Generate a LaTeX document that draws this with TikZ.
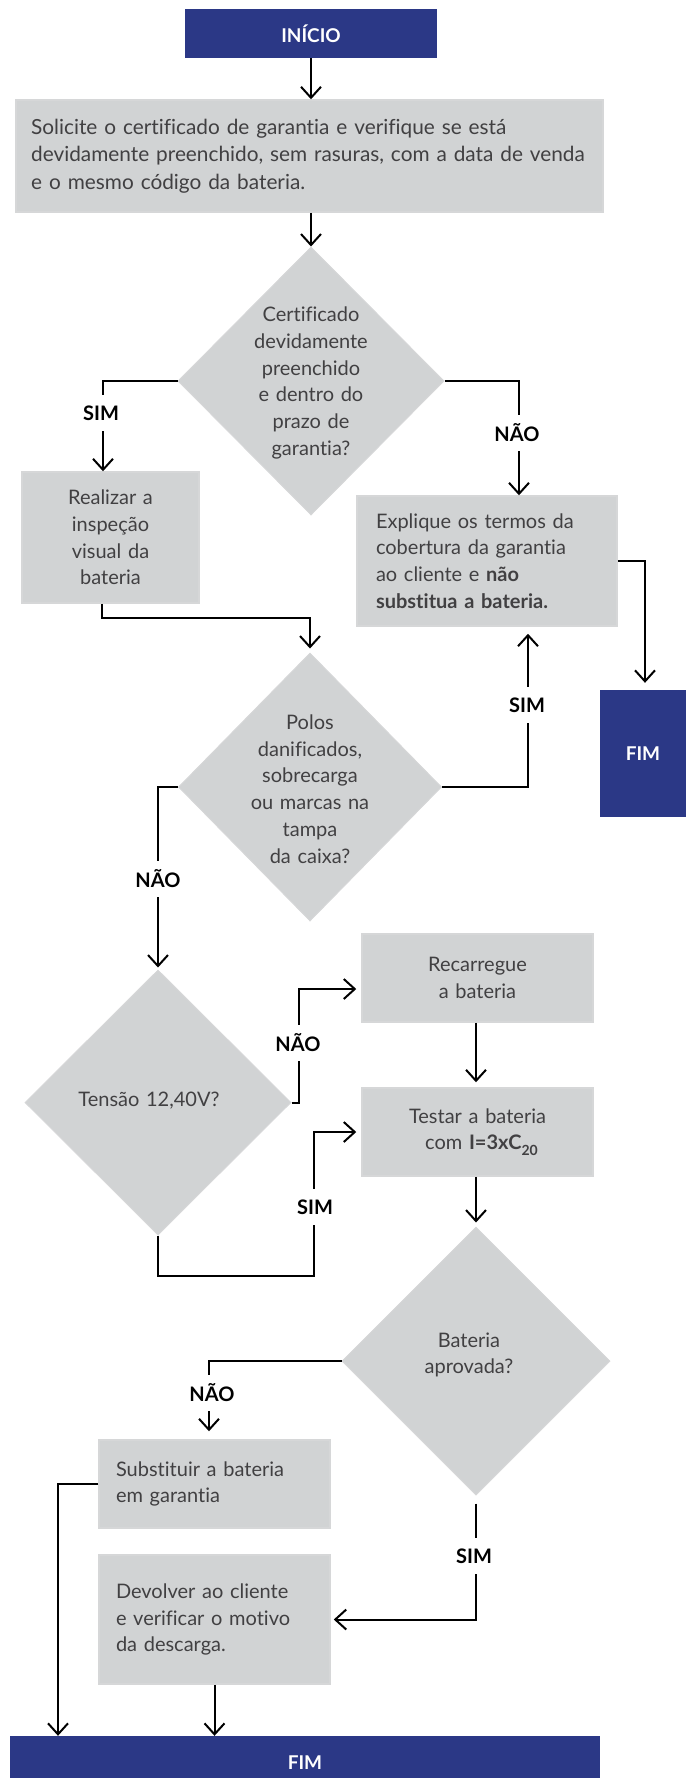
\documentclass[tikz,border=0pt]{standalone}
\usepackage{fontspec}
\setmainfont{Lato}[Ligatures=NoCommon, WordSpace=1.3]
\usetikzlibrary{arrows.meta,shapes.geometric,calc}
\definecolor{navy}{HTML}{2B3886}
\definecolor{boxgray}{HTML}{D1D3D4}
\definecolor{boxline}{HTML}{D6D7D8}
\definecolor{txt}{HTML}{414042}
\begin{document}
\begin{tikzpicture}[x=1pt,y=-1pt,
  box/.style={draw=boxline, line width=1.5pt, fill=boxgray, inner sep=0pt, text=txt,
    font=\fontsize{20}{26.7}\selectfont},
  diam/.style={diamond, aspect=1, draw=boxline, line width=1pt, fill=boxgray, inner sep=0pt},
  dtext/.style={text=txt, align=center, font=\fontsize{20}{26.7}\selectfont, inner sep=0pt},
  term/.style={fill=navy, text=white, inner sep=0pt, font=\fontsize{19}{22}\selectfont\bfseries},
  lab/.style={fill=white, text=black, inner xsep=2pt, minimum height=36pt,
    font=\fontsize{20}{22}\selectfont\bfseries},
  conn/.style={draw=black, line width=2pt, -{Straight Barb[length=11pt,width=20pt,line width=2pt]}}
]
\clip (0,0) rectangle (686,1778);
\useasboundingbox (0,0) rectangle (686,1778);
% terminals
\node[term, minimum width=252pt, minimum height=49pt] (inicio) at (311,33.5) {INÍCIO};
\node[term, minimum width=86pt, minimum height=127pt] (fim1) at (643,753.5) {FIM};
\node[term, minimum width=590pt, minimum height=54pt] (fimb) at (305,1763) {FIM};
% boxes
\node[box, minimum width=587pt, minimum height=112pt] (sol) at (309.5,156) {};
\node[text=txt, anchor=west, align=left, inner sep=0pt, font=\fontsize{20.8}{27.5}\selectfont] (solt) at (31,156)
  {Solicite o certificado de garantia e verifique se está\\devidamente preenchido, sem rasuras, com a data de venda\\e o mesmo código da bateria.};
\node[box, minimum width=177pt, minimum height=131pt, text width=160pt, align=center] (real) at (110.5,537.5)
  {Realizar a\\inspeção\\visual da\\bateria};
\node[box, minimum width=260pt, minimum height=130pt, text width=222pt, align=left] (expl) at (487,561)
  {Explique os termos da\\cobertura da garantia\\ao cliente e \textbf{não}\\\textbf{substitua a bateria.}};
\node[box, minimum width=231pt, minimum height=88pt, text width=210pt, align=center] (recar) at (477.5,978)
  {Recarregue\\a bateria};
\node[box, minimum width=231pt, minimum height=88pt, text width=210pt, align=center] (test) at (477.5,1132)
  {Testar a bateria\\\hspace*{8pt}com \textbf{I=3xC\raisebox{-0.28em}{\fontsize{14}{14}\selectfont 20}}};
\node[box, minimum width=231pt, minimum height=88pt, text width=197pt, align=left] (subs) at (214.5,1484)
  {Substituir a bateria\\em garantia};
\node[box, minimum width=231pt, minimum height=129pt, text width=197pt, align=left] (dev) at (214.5,1619.5)
  {Devolver ao cliente\\e verificar o motivo\\da descarga.};
% diamonds
\node[diam, minimum width=266pt, minimum height=268pt] (d1) at (311,381) {};
\node[dtext] (d1t) at (311,383) {Certificado\\devidamente\\preenchido\\e dentro do\\prazo de\\garantia?};
\node[diam, minimum width=263pt, minimum height=268pt] (d2) at (310,787) {};
\node[dtext] (d2t) at (310,789) {Polos\\danificados,\\sobrecarga\\ou marcas na\\tampa\\da caixa?};
\node[diam, minimum width=266pt, minimum height=265pt] (d3) at (158,1102.5) {};
\node[dtext] (d3t) at (149,1101) {Tensão 12,40V?};
\node[diam, minimum width=268pt, minimum height=268pt] (d4) at (476,1361) {};
\node[dtext] (d4t) at (469,1355) {Bateria\\aprovada?};
% connectors
\draw[conn] (inicio.south) -- (sol.north -| inicio.south);
\draw[conn] (sol.south -| d1.north) -- (d1.north);
\draw[conn] (d1.west) -| ([xshift=-7.5pt]real.north);
\draw[conn] (d1.east) -| ([xshift=32pt]expl.north);
\draw[conn, shorten >=7pt] (expl.east) -| ([xshift=2pt]fim1.north);
\draw[conn, shorten >=4pt] ([xshift=-8.5pt]real.south) -- ++(0,14) -| (d2.north);
\draw[conn, shorten >=7pt] (d2.east) -| ([xshift=41pt]expl.south);
\draw[conn, shorten >=2pt] (d2.west) -| (d3.north);
\draw[conn, shorten >=5pt] (d3.east) -- ++(7,0) |- ([yshift=-11pt]recar.west);
\draw[conn, shorten >=5pt] ([xshift=-1.5pt]recar.south) -- ([xshift=-1.5pt]test.north);
\draw[conn, shorten >=5pt] (d3.south) -- ++(0,40) -| ([xshift=-47pt]test.west) -- (test.west);
\draw[conn, shorten >=4pt] ([xshift=-1.5pt]test.south) -- (d4.north);
\draw[conn, shorten >=8pt] (d4.west) -| ([xshift=-5.5pt]subs.north);
\draw[conn] (subs.west) -| ([xshift=-247pt]fimb.north);
\draw[conn, shorten <=8pt, shorten >=3pt] (d4.south) |- (dev.east);
\draw[conn] (dev.south) -- (dev.south |- fimb.north);
% labels
\node[lab] (l1) at (101,413) {SIM};
\node[lab] (l2) at (517,433) {NÃO};
\node[lab] (l3) at (527,705) {SIM};
\node[lab] (l4) at (158,879) {NÃO};
\node[lab] (l5) at (298,1043) {NÃO};
\node[lab] (l6) at (315,1207) {SIM};
\node[lab] (l7) at (212,1393) {NÃO};
\node[lab] (l8) at (474,1556) {SIM};
\end{tikzpicture}
\end{document}
